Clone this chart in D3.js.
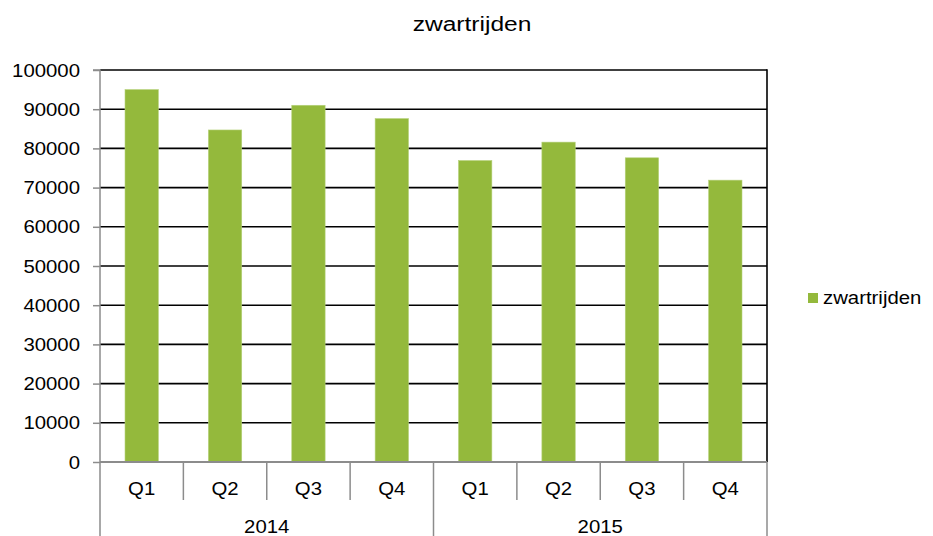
<!DOCTYPE html>
<html><head><meta charset="utf-8">
<script src="https://cdn.jsdelivr.net/npm/d3@7"></script>
<style>body{margin:0;background:#fff;}svg{display:block;font-family:"Liberation Sans",Arial,sans-serif;}</style>
</head><body>
<svg id="c" width="933" height="536"></svg>
<script>
const years = ["2014", "2015"];
const quarters = ["Q1", "Q2", "Q3", "Q4"];
const values = [95000, 84700, 91000, 87600, 76900, 81600, 77600, 71900];
const yTicks = [0,10000,20000,30000,40000,50000,60000,70000,80000,90000,100000];
const seriesName = "zwartrijden";
const title = "zwartrijden";

const svg = d3.select("#c");
const L = 100, R = 767, T = 70, B = 462;
const cats = [];
years.forEach(y => quarters.forEach(q => cats.push(y + "-" + q)));
const x = d3.scaleBand().domain(cats).range([L, R]).paddingInner(0.6).paddingOuter(0.3);
const xb = d3.scaleBand().domain(cats).range([L, R]);
const y = d3.scaleLinear().domain([0, 100000]).range([B, T]);
const green = "#94b93c";
const grey = "#8c8c8c";

function label(g, tx, ty, str, size, sx, anchor) {
  return g.append("text")
    .attr("transform", `translate(${tx},${ty}) scale(${sx},1)`)
    .attr("text-anchor", anchor || "middle").attr("font-size", size)
    .attr("fill", "#000").text(str);
}

// gridlines
svg.append("g").selectAll("line").data(yTicks.filter(d => d > 0)).join("line")
  .attr("x1", L).attr("x2", R).attr("y1", d => y(d)).attr("y2", d => y(d))
  .attr("stroke", "#000").attr("stroke-width", 1.6);
// right border
svg.append("line").attr("x1", R).attr("x2", R).attr("y1", T - 0.8).attr("y2", B)
  .attr("stroke", "#000").attr("stroke-width", 1.6);

// bars
svg.append("g").selectAll("rect").data(values).join("rect")
  .attr("x", (d, i) => x(cats[i])).attr("width", x.bandwidth())
  .attr("y", d => y(d)).attr("height", d => B - y(d))
  .attr("fill", green).attr("stroke", "#b5d17a").attr("stroke-width", 0.6);

// y axis (lines from d3 axis, labels stretched)
const yAxis = svg.append("g").attr("transform", `translate(${L},0)`)
  .call(d3.axisLeft(y).tickValues(yTicks).tickSize(7).tickFormat(""));
yAxis.select(".domain").attr("stroke", grey).attr("stroke-width", 1.5).attr("d", `M-7,${T}H0V536`);
yAxis.selectAll(".tick line").attr("stroke", grey).attr("stroke-width", 1.5);
const yl = svg.append("g");
yTicks.forEach(t => label(yl, 80, y(t) + 6.5, d3.format("d")(t), 18.5, 1.1, "end"));

// x axis
const xg = svg.append("g");
xg.append("line").attr("x1", L).attr("x2", R).attr("y1", B).attr("y2", B)
  .attr("stroke", grey).attr("stroke-width", 1.8);
cats.forEach((c, i) => {
  if (i === 0) return;
  const bx = xb(c);
  const isYear = i % quarters.length === 0;
  xg.append("line").attr("x1", bx).attr("x2", bx).attr("y1", B).attr("y2", isYear ? 536 : 500)
    .attr("stroke", grey).attr("stroke-width", 1.5);
});
xg.append("line").attr("x1", R).attr("x2", R).attr("y1", B).attr("y2", 536)
  .attr("stroke", grey).attr("stroke-width", 1.5);
cats.forEach(c => label(xg, xb(c) + xb.bandwidth() / 2, 495, c.split("-")[1], 18.5, 1.1));
years.forEach(yr => {
  const first = xb(yr + "-" + quarters[0]);
  const last = xb(yr + "-" + quarters[quarters.length - 1]) + xb.bandwidth();
  label(xg, (first + last) / 2, 533, yr, 18.5, 1.1);
});

// title
label(svg, 472, 31, title, 21, 1.17);

// legend
svg.append("rect").attr("x", 808).attr("y", 293).attr("width", 10).attr("height", 10).attr("fill", green);
label(svg, 823, 304, seriesName, 18.5, 1.1, "start");
</script>
</body></html>
